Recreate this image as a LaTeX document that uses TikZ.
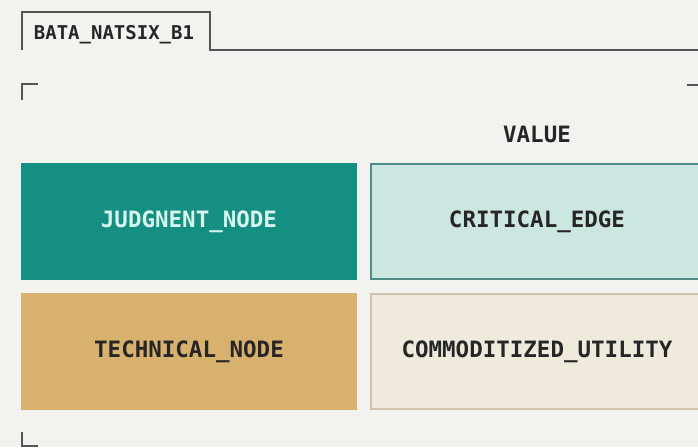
\documentclass[tikz,border=0pt]{standalone}
\usepackage{fontspec}
\setmonofont{DejaVu Sans Mono}
\definecolor{bg}{HTML}{F2F2EE}
\definecolor{ink}{HTML}{262626}
\definecolor{rule}{HTML}{555555}
\definecolor{tealdark}{HTML}{148F82}
\definecolor{tealtext}{HTML}{D6F3EC}
\definecolor{teallight}{HTML}{CCE7E2}
\definecolor{tealedge}{HTML}{4F8E86}
\definecolor{tan}{HTML}{D8B16E}
\definecolor{cream}{HTML}{F0EADD}
\definecolor{creamedge}{HTML}{CFC3AC}
\tikzset{
  cell/.style={minimum width=336pt, minimum height=117pt, inner sep=0pt, font=\ttfamily\bfseries\fontsize{22.5}{23}\selectfont},
  frameline/.style={draw=rule, line width=1.8pt},
  markline/.style={draw=rule, line width=2.4pt},
  lbl/.style={font=\ttfamily\bfseries\fontsize{22.5}{23}\selectfont, text=ink, inner sep=0pt},
  tablbl/.style={font=\ttfamily\bfseries\fontsize{19}{19}\selectfont, text=ink, inner sep=0pt}
}
\begin{document}
\begin{tikzpicture}[x=1pt,y=-1pt]
\fill[bg] (0,0) rectangle (698,447);
\useasboundingbox (0,0) rectangle (698,447);
\begin{scope}
\clip (0,0) rectangle (698,447);
% tab
\draw[frameline] (22,50) -- (22,12) -- (210,12) -- (210,50) -- (698,50);
\node[tablbl] (tab) at (114,35) {BATA\_NATSIX\_B1};
% corner marks
\draw[markline] (22,100) -- (22,84) -- (38,84);
\draw[markline] (687,85) -- (698,85);
\draw[markline] (22,432) -- (22,446) -- (38,446);
% header
\node[lbl] (value) at (537,134) {VALUE};
% cells
\node[cell, fill=tealdark, text=tealtext] (judg) at (189,221.5) {JUDGNENT\_NODE};
\node[cell, fill=teallight, draw=tealedge, line width=2pt, minimum width=332pt, minimum height=115pt, text=ink] (crit) at (537,221.5) {CRITICAL\_EDGE};
\node[cell, fill=tan, text=ink] (tech) at (189,351.5) {TECHNICAL\_NODE};
\node[cell, fill=cream, draw=creamedge, line width=1.8pt, minimum width=332pt, minimum height=115pt, text=ink] (comm) at (537,351.5) {COMMODITIZED\_UTILITY};
\end{scope}
\end{tikzpicture}
\end{document}
